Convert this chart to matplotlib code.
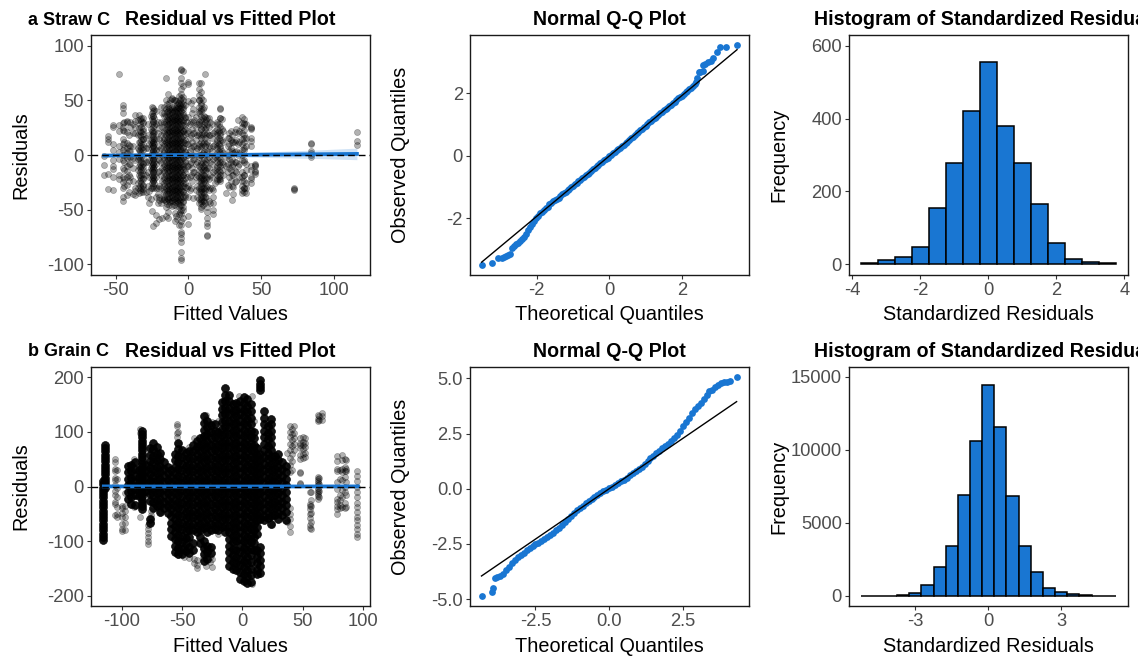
import numpy as np
import matplotlib
matplotlib.use("Agg")
import matplotlib.pyplot as plt
from matplotlib.transforms import Bbox

plt.rcParams['font.family'] = ['Liberation Sans', 'DejaVu Sans']
plt.rcParams['axes.unicode_minus'] = False

BLUE = '#1976D2'
GREY = '#4D4D4D'

# ---------- a: Straw C residuals, column by column (fitted value, residuals)
a_fitted = [-58, -55, -52, -48, -45, -42, -40, -37, -34, -33, -31, -29, -27, -25, -24, -22, -20, -18,
            -17, -15.5, -14, -12.5, -11, -9.5, -8, -6.5, -5, -3.5, -2, 0, 1.5, 3, 5, 7, 8.5, 10, 11.5, 13,
            15, 17, 20, 21.5, 23, 26, 28, 30, 32, 34, 37, 38.5, 43, 46, 73, 84.5, 116]
a_resid = [
    [-18, -9, -1],
    [-31, -17, 12, 15, 17],
    [-32, -20, -13, -10, -5, 5, 10, 26, 27],
    [74, 27, 22, 8, 3, -4, -18, -22],
    [46, 43, 38, 29, 26, 23, 15, 10, 5, 0, -5, -12, -20, -25, -30, -38, -42],
    [31, 30, 21, 11, 6, 2, -3, -10, -15, -20, -27, -37],
    [30, 26, 8, 4, -2, -8, -20],
    [37, 31, 26, 20, -5, -30, -33, -37],
    [37, 25, 12, 5, -2, -10, -18, -35],
    [33, 28, 22, 18, 12, 8, 4, 0, -4, -8, -12, -16, -20, -24, -28, -32],
    [34, 30, 22, 15, 7, -8, -14, -22, -28, -34],
    [16, 6, -6, -18, -34],
    [10, -5, -20, -33, -44],
    [44, 38, 33, 28, 22, 18, 14, 10, 6, 2, -2, -6, -10, -14, -18, -22, -26, -30, -51],
    [43, 36, 30, 22, 17, 12, 8, 4, 0, -4, -8, -12, -16, -20, -24, -65],
    [40, 28, 15, 5, -8, -20, -30, -38, -55, -62],
    [25, 15, 5, -5, -15, -28, -38, -41, -59],
    [38, 26, 12, 0, -12, -24, -40, -58],
    [44, 38, 30, 22, 16, 10, 4, -2, -8, -14, -20, -26, -32, -38, -41],
    [70, 50, 42, 36, 30, 24, 18, 12, 6, 0, -6, -12, -18, -24, -30, -36, -42, -48, -56],
    [56, 44, 40, 36, 32, 28, 24, 20, 16, 12, 8, 4, 0, -4, -8, -12, -16, -20, -24, -28, -32, -36, -40, -52, -58],
    [50, 41, 37, 33, 29, 25, 21, 17, 13, 9, 5, 1, -3, -7, -11, -15, -19, -23, -27, -31, -35, -39, -43],
    [52, 42, 38, 34, 30, 26, 22, 18, 14, 10, 6, 2, -2, -6, -10, -14, -18, -22, -26, -30, -34, -38, -42],
    [50, 41, 37, 33, 29, 25, 21, 17, 13, 9, 5, 1, -3, -7, -11, -15, -19, -23, -27, -31, -35, -39, -43, -53, -60],
    [46, 42, 38, 34, 30, 26, 22, 18, 14, 10, 6, 2, -2, -6, -10, -14, -18, -22, -26, -30, -34, -38, -42, -59],
    [54, 48, 43, 37, 31, 25, 19, 13, 7, 1, -5, -11, -17, -23, -29, -35, -41, -48, -54, -64],
    [79, 78, 70, 66, 60, 56, 52, 48, 44, 40, 36, 32, 28, 24, 20, 16, 12, 8, 4, 0, -4, -8, -12, -16, -20, -24, -28, -32, -36, -40, -46, -50, -54, -60, -64, -70, -72, -76, -80, -89, -94, -96],
    [77, 63, 50, 44, 38, 30, 22, 14, 6, -2, -10, -18, -26, -34, -42, -50, -58],
    [46, 34, 24, 14, 4, -6, -16, -26, -38],
    [67, 65, 49, 35, 22, 10, 0, -10, -28, -38, -56, -63],
    [48, 30, 18, 6, -6, -18, -30],
    [50, 42, 30, 20, 8, -4, -16, -39],
    [35, 26, 14, 4, -8, -20, -32],
    [66, 60, 55, 50, 44, 38, 28, 18, 8, -2, -14, -24, -34, -44],
    [66, 58, 52, 46, 40, 32, 24, 16, 8, 0, -8, -16, -20, -24, -28, -32, -36, -40, -44, -49],
    [50, 42, 34, 26, 18, 10, 2, -6, -10, -14, -18, -22, -26, -30, -34, -38, -42, -46],
    [74, 35, 30, 24, 16, 8, 0, -8, -14, -20, -26, -32, -38, -44],
    [34, 28, 20, 12, 4, -4, -12, -20, -28, -48, -52, -58, -62, -65, -73, -74],
    [30, 18, 6, -6, -18, -30, -44],
    [20, 8, -4, -16, -32, -38, -44, -50, -54],
    [28, 20, 14, 8, 2, -4, -10, -16, -22],
    [43, 42, 34, 26, 20, 14, 8, 2, -4, -10, -16, -22, -24],
    [33, 24, 14, 4, -6, -14],
    [-2, -10, -35],
    [20, 16, 10, 4, -4, -12, -20, -29],
    [18, 12, 4, -4, -10, -18, -28, -41],
    [21, 12, 3, -6, -15, -25],
    [32, 20, 10, 0, -10],
    [35, 29, 26, 20, 15, 10, 5, 0, -5, -16, -20, -24, -28, -32, -35],
    [29, 16, 5, -5, -18, -30],
    [26, 25, 24, 16, 13, 8, -10, -14, -20, -22, -26],
    [-8, -9, -10, -15, -16, -17],
    [-30, -31, -32],
    [11, 10, 4, 2, 0, -2],
    [21, 13, 9],
]
# more straw C points, filling between the columns above
a_fitted2 = [-44, -41, -38, -35, -32.5, -31.5, -28, -26, -24.5, -23.5, -21, -19, -16.5, -15, -13, -11.5, -10, -8.5,
             -7, -5.5, -4, -2.5, -1, 1, 2.5, 4, 6, 7.5, 9, 10.5, 12, 14, 16, 18, 19.5, 21, 22, 24, 27, 29, 31, 33,
             35, 38, 39.5]
a_resid2 = [
    [30, 22, 12, 6, 0, -6, -14, -22, -28],
    [18, 9, 4, -2, -8, -18, -24, -34],
    [28, 20, 8, -3, -12, -24, -36],
    [32, 18, 6, -4, -14, -26, -30],
    [34, 31, 26, 21, 17, 14, 10, 6, 2, -2, -6, -10, -14, -18, -22, -26, -30, -34],
    [29, 24, 19, 15, 10, 5, -3, -7, -11, -17, -21, -27, -31],
    [28, 18, 6, -6, -16, -28, -38],
    [36, 24, 12, 0, -12, -30, -40],
    [40, 36, 31, 26, 20, 16, 12, 8, 4, 0, -4, -8, -12, -16, -20, -24, -28],
    [41, 34, 27, 21, 15, 10, 6, 2, -2, -6, -10, -14, -18, -22, -26, -30],
    [30, 20, 8, -4, -16, -30, -36, -44],
    [44, 30, 18, 6, -6, -18, -30, -44],
    [36, 28, 20, 14, 8, 2, -4, -10, -16, -22, -28, -34, -40],
    [47, 39, 33, 27, 21, 15, 9, 3, -3, -9, -15, -21, -27, -33, -39, -45],
    [48, 42, 38, 34, 30, 26, 22, 18, 14, 10, 6, 2, -2, -6, -10, -14, -18, -22, -26, -30, -34, -38, -42, -46],
    [51, 44, 39, 35, 31, 27, 23, 19, 15, 11, 7, 3, -1, -5, -9, -13, -17, -21, -25, -29, -33, -37, -41, -47],
    [50, 44, 40, 36, 32, 28, 24, 20, 16, 12, 8, 4, 0, -4, -8, -12, -16, -20, -24, -28, -32, -36, -40, -46],
    [49, 43, 39, 35, 31, 27, 23, 19, 15, 11, 7, 3, -1, -5, -9, -13, -17, -21, -25, -29, -33, -37, -41, -47, -56],
    [48, 44, 40, 36, 32, 28, 24, 20, 16, 12, 8, 4, 0, -4, -8, -12, -16, -20, -24, -28, -32, -36, -40, -44],
    [50, 46, 42, 38, 34, 30, 26, 22, 18, 14, 10, 6, 2, -2, -6, -10, -14, -18, -22, -26, -30, -34, -38, -42, -46, -52],
    [53, 47, 42, 37, 32, 27, 22, 17, 12, 7, 2, -3, -8, -13, -18, -23, -28, -33, -38, -43, -48],
    [35, 27, 19, 11, 3, -5, -13, -21, -29, -37],
    [30, 20, 10, 0, -10, -20, -30],
    [28, 16, 4, -8, -20, -32],
    [38, 24, 12, 0, -12, -24],
    [32, 20, 8, -4, -16],
    [28, 18, 6, -6, -18, -28, -38],
    [50, 40, 30, 20, 10, 0, -10, -20, -30, -40],
    [48, 42, 36, 30, 24, 18, 12, 6, 0, -6, -12, -18, -22, -26, -30, -34, -38, -42, -48],
    [44, 36, 28, 20, 12, 4, -4, -12, -18, -24, -30, -36, -42],
    [32, 26, 18, 10, 2, -6, -14, -22, -30, -38],
    [34, 26, 18, 8, -2, -12, -22, -32, -42],
    [28, 16, 4, -8, -20, -30],
    [22, 10, -2, -14, -26],
    [30, 24, 18, 12, 6, 0, -6, -12, -18, -24],
    [28, 22, 16, 10, 4, -2, -8, -14, -20, -22],
    [34, 18, 6, -6, -18],
    [22, 12, 2, -8, -18],
    [16, 8, 0, -8, -16, -27],
    [22, 14, 6, -6, -14, -24],
    [12, 2, -8, -18, -29, -36],
    [24, 14, 4, -6, -16, -24],
    [22, 12, 2, -8, -20],
    [33, 28, 23, 18, 12, 6, -6, -18, -24, -30, -34],
    [28, 16, 8, -8, -14, -26, -30, -35],
]
a_smooth_x = [-58, -30, 0, 30, 60, 90, 116]
a_smooth_y = [-0.5, -0.2, 0.0, 0.1, 0.4, 0.7, 1.0]
a_smooth_se = [1.8, 1.0, 0.7, 1.6, 2.8, 4.0, 5.3]

# ---------- b: Grain C residuals
b_dense_fitted = [-115.5, -113.7, -95, -92, -89, -86, -83.5, -80, -77, -74, -71, -68, -65, -62, -59, -56, -53, -50,
                  -47, -44, -41, -38, -35, -32, -29, -26, -23, -20, -17, -14, -11, -8, -5, -2, 1, 4, 7, 10, 12.5,
                  14.8, 18, 21, 24, 27, 30, 33, 36]
b_dense_resid = [
    [10, 4, -2, -8, -14, -20, -26, -32, -38, -44, -50, -56, -62, -68, -74, -80, -86, -92, -98],
    [76, 70, 64, 58, 52, 46, 40, 34, 28, 22, 16, 10, 4, -2],
    [38, 26, 14, 2, -10, -22],
    [40, 28, 16, 4, -8, -20, -32],
    [44, 32, 20, 8, -4, -16, -34],
    [30, 18, 6, -6, -18],
    [102, 96, 90, 84, 78, 72, 66, 60, 54, 48, 42, 36, 30, 24, 18, 12, 6, 0, -6, -12, -18, -24, -30, -36, -42],
    [40, 28, 16, 4, -8],
    [70, 58, 46, 34, 22, 10, -2, -14, -26, -60, -66],
    [80, 68, 56, 44, 32, 20, 8, -4, -16, -28, -40],
    [72, 60, 48, 36, 24, 12, 0, -12, -24, -36],
    [62, 50, 38, 26, 14, 2, -10, -22, -34, -46],
    [44, 32, 20, 8, -4, -16, -28, -40],
    [36, 24, 12, 0, -12, -24, -36, -48],
    [30, 18, 6, -6, -18, -30, -42, -54, -66, -78, -90],
    [60, 48, 36, 24, 12, 0, -12, -24, -36, -48, -60, -72, -84, -96, -108, -120],
    [80, 68, 56, 44, 32, 20, 8, -4, -16, -28, -40, -52, -64, -76, -88, -100, -112, -124],
    [66, 54, 42, 30, 18, 6, -6, -18, -30, -42, -54, -66, -78, -90, -102, -114, -124],
    [62, 50, 38, 26, 14, 2, -10, -22, -34, -46, -58, -70, -82, -94, -106, -118],
    [64, 52, 40, 28, 16, 4, -8, -20, -32, -44, -56, -68, -80, -92, -110, -122],
    [76, 64, 52, 40, 28, 16, 4, -8, -20, -32, -44, -56, -68, -80, -104, -116],
    [84, 72, 60, 48, 36, 24, 12, 0, -12, -24, -36, -48, -60, -72, -84],
    [88, 76, 64, 52, 40, 28, 16, 4, -8, -20, -32, -44, -56, -68, -80, -92, -104],
    [128, 116, 104, 92, 80, 68, 56, 44, 32, 20, 8, -4, -16, -28, -40, -52, -64, -76, -100, -112, -124, -136],
    [120, 108, 96, 84, 72, 60, 48, 36, 24, 12, 0, -12, -24, -36, -48, -60, -72, -84, -108, -120, -132],
    [112, 100, 88, 76, 64, 52, 40, 28, 16, 4, -8, -20, -32, -44, -56, -68, -80, -110, -122],
    [114, 102, 90, 78, 66, 54, 42, 30, 18, 6, -6, -18, -30, -42, -54, -66, -78],
    [100, 88, 76, 64, 52, 40, 28, 16, 4, -8, -20, -32, -44, -56, -68, -80],
    [154, 142, 130, 118, 106, 94, 82, 70, 58, 46, 34, 22, 10, -2, -14, -26, -38, -50, -62, -74],
    [180, 168, 156, 144, 132, 120, 108, 96, 84, 72, 60, 48, 36, 24, 12, 0, -12, -24, -36, -48, -60, -72, -84],
    [168, 156, 144, 132, 120, 108, 96, 84, 72, 60, 48, 36, 24, 12, 0, -12, -24, -36, -48, -60, -72, -84, -96, -108, -120, -132, -146],
    [150, 138, 126, 114, 102, 90, 78, 66, 54, 42, 30, 18, 6, -6, -18, -30, -42, -54, -66, -78, -90, -102, -114, -126, -138, -150],
    [152, 140, 128, 116, 104, 92, 80, 68, 56, 44, 32, 20, 8, -4, -16, -28, -40, -52, -64, -76, -88, -100, -116, -128, -140, -152],
    [156, 144, 132, 120, 108, 96, 84, 72, 60, 48, 36, 24, 12, 0, -12, -24, -36, -48, -60, -72, -84, -96, -108, -120, -132, -144, -156, -170],
    [164, 152, 140, 128, 116, 104, 92, 80, 68, 56, 44, 32, 20, 8, -4, -16, -28, -40, -52, -64, -76, -88, -100, -112, -124, -136, -148, -160, -172],
    [160, 148, 136, 124, 112, 100, 88, 76, 64, 52, 40, 28, 16, 4, -8, -20, -32, -44, -56, -68, -80, -92, -104, -116, -128, -140, -152, -164, -176],
    [150, 138, 126, 114, 102, 90, 78, 66, 54, 42, 30, 18, 6, -6, -18, -30, -42, -54, -66, -78, -90, -102, -114, -126, -138, -150, -162, -174],
    [100, 88, 76, 64, 52, 40, 28, 16, 4, -8, -20, -32, -44, -56, -68, -80, -92, -104, -116],
    [70, 58, 46, 34, 22, 10, -2, -14, -26, -38, -50, -62, -74, -86, -116, -128, -140, -152, -160],
    [194, 188, 182, 176, 60, 48, 36, 24, 12, 0, -12, -24, -36, -48, -60, -110, -122, -134, -146, -158],
    [138, 126, 114, 102, 90, 78, 66, 54, 42, 30, 18, 6, -6, -18, -30, -42, -54, -62],
    [110, 98, 86, 74, 62, 50, 38, 26, 14, 2, -10, -22, -34, -46, -58],
    [124, 114, 102, 90, 78, 66, 54, 42, 30, 18, 6, -6, -18, -30, -42, -54, -68],
    [56, 44, 32, 20, 8, -4, -16, -28, -40, -52],
    [60, 48, 36, 24, 12, 0, -12, -24, -36, -48, -60],
    [44, 32, 20, 8, -4, -16, -28, -40, -52],
    [38, 26, 14, 2, -10, -22, -34, -46, -62],
]
b_sparse_fitted = [-105.5, -104, -100, -97, -90, -85, -78, -76, -68, -54, -53, -48, -44, -40, -38, -33, -30, -27, -25,
                   -20, -3, 8, 10, 12, 25, 37, 40, 41.5, 43, 48, 50, 52, 56, 57, 63, 64, 66, 79, 81, 83, 85, 86, 95.5]
b_sparse_resid = [
    [50, 45, 32, 28, 16, 12, 3, -8, -16, -28, -32, -52],
    [30, 14, -3, -20, -38, -50, -56],
    [-35, -40, -48, -55, -68, -78, -82],
    [-12, -35, -45, -55, -66, -80],
    [50, 45, -37],
    [106, 98, -55],
    [-70, -78, -85, -92, -100, -105],
    [-45, -52, -58, -64],
    [-48, -44, 48, 55],
    [115, 110, 98, 90],
    [-126, -118, 100, 78],
    [-128, -110, -92],
    [-100, -130, 72],
    [-133, -140, 88, 66],
    [-149, -143, -135, 70],
    [92, 86, -115, -130],
    [-145, -125, 130, 123],
    [-138, -128, -112, 105],
    [-148, -132, 118],
    [120, 100, -86],
    [-158, -148, 165],
    [-178, 165],
    [-148, -134, 120],
    [-120, -132, 72],
    [-70, 65],
    [-65, 62],
    [110, 100, 90, 78, 66, 52, 40, 26, -40, -50, -60, -72, -84],
    [105, 96, 85, 74, 60, 46, 30],
    [110, 98, 88, 78, 66],
    [88, 80, 75, 70, 58, 50, 26, 24, 6, 4],
    [90, 82, 76, 68, 60, 52],
    [88, 80, 72, 62, 54],
    [-10, -32, -36, -42, -50, -58, -70, -75],
    [-10, -24, -35, -48, -64, -78],
    [124, 120, 130, 18, 14, 10, 6, 2, -2, -6, -10, -14, -18, -22],
    [128, 122, 16, 4, -8, -20],
    [134, 128, 122],
    [56, 46, 32, 28, 8, -4, -22, -28, -35, -42, -50],
    [30, 14, -16, -24, -33, -40],
    [58, 48, 32, 26, 12, -6, -20, -38],
    [50, 36, 29, 18, 0, -10, -30, -40],
    [48, 32, 28, 8, -15, -38],
    [28, 20, 10, 0, -10, -20, -30, -38, -46, -55, -62, -70, -78, -86, -93],
]
b_smooth_x = [-115, -60, 0, 50, 96]
b_smooth_y = [0.2, 0.0, 0.0, 0.1, 0.2]

# ---------- Q-Q data
a_qq_x = [-3.52, -3.23, -3.06, -2.97, -2.90, -2.84, -2.78, -2.73, -2.69, -2.64, -2.58, -2.52, -2.46, -2.40, -2.35, -2.30,
          -2.25, -2.20, -2.14, -2.08, -2.02, -1.96, -1.90, -1.85,
          -1.80, -1.75, -1.70, -1.65, -1.60, -1.55, -1.50, -1.45, -1.40, -1.35, -1.30, -1.25, -1.20, -1.15, -1.10, -1.05,
          -1.00, -0.95, -0.90, -0.85, -0.80, -0.75, -0.70, -0.65, -0.60, -0.55, -0.50, -0.45, -0.40, -0.35, -0.30, -0.25,
          -0.20, -0.15, -0.10, -0.05, 0.00, 0.05, 0.10, 0.15, 0.20, 0.25, 0.30, 0.35, 0.40, 0.45, 0.50, 0.55, 0.60, 0.65,
          0.70, 0.75, 0.80, 0.85, 0.90, 0.95, 1.00, 1.05, 1.10, 1.15, 1.20, 1.25, 1.30, 1.35, 1.40, 1.45, 1.50, 1.55, 1.60,
          1.65, 1.70, 1.75, 1.80, 1.85, 1.90, 1.95, 2.00, 2.05, 2.10, 2.15, 2.20, 2.25, 2.30, 2.35, 2.40,
          2.43, 2.46, 2.51, 2.57, 2.59, 2.64, 2.73, 2.80, 2.87, 2.96, 3.06, 3.22, 3.51]
a_qq_y = [-3.50, -3.41, -3.28, -3.25, -3.22, -3.20, -3.18, -3.14, -2.93, -2.88, -2.83, -2.77, -2.71, -2.65, -2.58, -2.50,
          -2.37, -2.28, -2.18, -2.08, -2.00, -1.92, -1.84, -1.78,
          -1.72, -1.67, -1.62, -1.55, -1.49, -1.45, -1.41, -1.38, -1.33, -1.28, -1.23, -1.19, -1.14, -1.09, -1.05, -1.00,
          -0.95, -0.91, -0.86, -0.81, -0.77, -0.72, -0.67, -0.62, -0.57, -0.53, -0.48, -0.43, -0.37, -0.33, -0.28, -0.24,
          -0.18, -0.14, -0.09, -0.05, 0.00, 0.04, 0.09, 0.14, 0.18, 0.23, 0.27, 0.31, 0.35, 0.40, 0.45, 0.51, 0.57, 0.62,
          0.67, 0.73, 0.78, 0.83, 0.87, 0.92, 0.97, 1.03, 1.09, 1.13, 1.18, 1.22, 1.26, 1.31, 1.36, 1.41, 1.46, 1.50, 1.55,
          1.60, 1.64, 1.69, 1.74, 1.79, 1.84, 1.89, 1.93, 1.98, 2.04, 2.08, 2.13, 2.18, 2.23, 2.30, 2.38,
          2.48, 2.67, 2.70, 2.73, 2.91, 2.95, 2.99, 3.05, 3.13, 3.31, 3.47, 3.50, 3.54]
a_line_x = [-3.52, 3.52]
a_line_y = [-3.40, 3.40]

b_qq_x = [-4.33, -3.99, -3.93, -3.88, -3.8, -3.7, -3.6, -3.5, -3.4, -3.3, -3.2, -3.1, -3.0, -2.9, -2.8, -2.7, -2.6, -2.5,
          -2.4, -2.3, -2.2, -2.1, -2.0, -1.9, -1.8, -1.7, -1.6, -1.5, -1.4, -1.3, -1.2, -1.1, -1.0, -0.9, -0.8, -0.7, -0.6,
          -0.5, -0.4, -0.3, -0.2, -0.1, 0.0, 0.1, 0.2, 0.3, 0.4, 0.5, 0.6, 0.7, 0.8, 0.9, 1.0, 1.1, 1.2, 1.3, 1.4, 1.5, 1.6,
          1.7, 1.8, 1.9, 2.0, 2.1, 2.2, 2.3, 2.4, 2.5, 2.6, 2.7, 2.8, 2.9, 3.0, 3.1, 3.2, 3.3, 3.4, 3.5, 3.6, 3.7, 3.8, 3.9,
          4.0, 4.09, 4.32]
b_qq_y = [-4.85, -4.68, -4.48, -4.02, -3.99, -3.96, -3.87, -3.70, -3.53, -3.38, -3.24, -3.11, -3.00, -2.90, -2.78, -2.69, -2.60, -2.50,
          -2.44, -2.37, -2.28, -2.20, -2.10, -1.99, -1.88, -1.76, -1.63, -1.50, -1.37, -1.24, -1.10, -0.98, -0.87, -0.76, -0.66, -0.56, -0.46,
          -0.36, -0.27, -0.19, -0.11, -0.04, 0.03, 0.10, 0.18, 0.26, 0.34, 0.42, 0.51, 0.61, 0.71, 0.80, 0.89, 1.01, 1.14, 1.26, 1.38, 1.49, 1.61,
          1.72, 1.83, 1.94, 2.05, 2.17, 2.29, 2.46, 2.63, 2.84, 3.02, 3.22, 3.44, 3.62, 3.77, 3.90, 4.06, 4.24, 4.42, 4.48, 4.60, 4.72, 4.79, 4.82,
          4.85, 4.87, 5.05]
b_line_x = [-4.33, 4.32]
b_line_y = [-3.95, 3.95]

# ---------- histograms
a_bin_centers = [-3.5, -3, -2.5, -2, -1.5, -1, -0.5, 0, 0.5, 1, 1.5, 2, 2.5, 3, 3.5]
a_counts = [3, 13, 20, 48, 154, 278, 422, 556, 380, 278, 165, 60, 15, 8, 3]
b_bin_centers = [-5, -4.5, -4, -3.5, -3, -2.5, -2, -1.5, -1, -0.5, 0, 0.5, 1, 1.5, 2, 2.5, 3, 3.5, 4, 4.5, 5]
b_counts = [1, 2, 10, 40, 170, 750, 1950, 3420, 6900, 10600, 14450, 11550, 6850, 3430, 1600, 520, 230, 110, 40, 15, 3]

W, H = 1148, 656
fig = plt.figure(figsize=(W / 100, H / 100), dpi=100)
clip = Bbox([[0, 0], [1138, H]])


def panel(l, r, t, b, xlim, ylim, xticks, yticks, xlabels, title, xlabel, ylabel, ylab_x, xlab_y):
    ax = fig.add_axes([l / W, 1 - b / H, (r - l) / W, (b - t) / H])
    ax.set_xlim(*xlim)
    ax.set_ylim(*ylim)
    ax.set_xticks(xticks)
    ax.set_xticklabels(xlabels)
    ax.set_yticks(yticks)
    ax.tick_params(length=3, width=0.8, color='#333333', labelcolor=GREY, labelsize=13.2, pad=2.2)
    for s in ax.spines.values():
        s.set_linewidth(1.0)
        s.set_color('#1a1a1a')
    tt = ax.set_title(title, fontsize=14.1, fontweight='bold', color='black', pad=7.2)
    tt.set_clip_on(True)
    tt.set_clip_box(clip)
    tx = ax.set_xlabel(xlabel, fontsize=14.3, color='black')
    tx.set_verticalalignment('center')
    ax.xaxis.set_label_coords(0.5, (b - xlab_y) / (b - t))
    ty = ax.set_ylabel(ylabel, fontsize=14.3, color='black')
    ty.set_verticalalignment('center')
    ax.yaxis.set_label_coords((ylab_x - l) / (r - l), 0.5)
    return ax


def columns(ax, xs, ys, alpha, size):
    x = np.repeat(xs, [len(v) for v in ys])
    y = np.concatenate(ys)
    ax.scatter(x, y, s=size, facecolors=(0, 0, 0, alpha), edgecolors=(0, 0, 0, alpha), linewidths=0.5, zorder=2)


rows = [(35, 275, 314), (367, 606, 646)]
cols = [(91, 370, 21), (470, 749, 400), (849, 1128, 779)]

# a1
t, b, xy = rows[0]
ax = panel(cols[0][0], cols[0][1], t, b, (-67, 125), (-109.8, 109.8), [-50, 0, 50, 100], [-100, -50, 0, 50, 100],
           ['-50', '0', '50', '100'], 'Residual vs Fitted Plot', 'Fitted Values', 'Residuals', cols[0][2], xy)
columns(ax, a_fitted, a_resid, 0.3, 19)
columns(ax, a_fitted2, a_resid2, 0.3, 19)
lo = np.array(a_smooth_y) - np.array(a_smooth_se)
hi = np.array(a_smooth_y) + np.array(a_smooth_se)
ax.fill_between(a_smooth_x, lo, hi, color=BLUE, alpha=0.2, lw=0, zorder=3)
ax.plot(a_smooth_x, a_smooth_y, color=BLUE, lw=2.7, zorder=4)
ax.axhline(0, color='black', lw=1.0, ls=(0, (4.8, 2.9)), zorder=5)

# a2
ax = panel(cols[1][0], cols[1][1], t, b, (-3.84, 3.85), (-3.81, 3.87), [-2, 0, 2], [-2, 0, 2],
           ['-2', '0', '2'], 'Normal Q-Q Plot', 'Theoretical Quantiles', 'Observed Quantiles', cols[1][2], xy)
ax.scatter(a_qq_x, a_qq_y, s=24, color=BLUE, linewidths=0, zorder=2)
ax.plot(a_line_x, a_line_y, color='black', lw=1.0, zorder=3)

# a3
ax = panel(cols[2][0], cols[2][1], t, b, (-4.10, 4.11), (-29, 629), [-4, -2, 0, 2, 4], [0, 200, 400, 600],
           ['-4', '-2', '0', '2', '4'], 'Histogram of Standardized Residuals', 'Standardized Residuals', 'Frequency',
           cols[2][2], xy)
ax.bar(a_bin_centers, a_counts, width=0.5, color=BLUE, edgecolor='black', linewidth=1.1, zorder=2)

# b1
t, b, xy = rows[1]
ax = panel(cols[0][0], cols[0][1], t, b, (-125.6, 106), (-218.5, 218.5), [-100, -50, 0, 50, 100], [-200, -100, 0, 100, 200],
           ['-100', '-50', '0', '50', '100'], 'Residual vs Fitted Plot', 'Fitted Values', 'Residuals', cols[0][2], xy)
columns(ax, b_sparse_fitted, b_sparse_resid, 0.3, 19)
columns(ax, b_dense_fitted, b_dense_resid, 0.92, 32)
ax.plot(b_smooth_x, b_smooth_y, color=BLUE, lw=2.7, zorder=4)
ax.axhline(0, color='black', lw=1.0, ls=(0, (4.8, 2.9)), zorder=5)

# b2
ax = panel(cols[1][0], cols[1][1], t, b, (-4.72, 4.74), (-5.31, 5.52), [-2.5, 0, 2.5], [-5, -2.5, 0, 2.5, 5],
           ['-2.5', '0.0', '2.5'], 'Normal Q-Q Plot', 'Theoretical Quantiles', 'Observed Quantiles', cols[1][2], xy)
ax.set_yticklabels(['-5.0', '-2.5', '0.0', '2.5', '5.0'])
ax.scatter(b_qq_x, b_qq_y, s=24, color=BLUE, linewidths=0, zorder=2)
ax.plot(b_line_x, b_line_y, color='black', lw=1.0, zorder=3)

# b3
ax = panel(cols[2][0], cols[2][1], t, b, (-5.73, 5.75), (-705, 15685), [-3, 0, 3], [0, 5000, 10000, 15000],
           ['-3', '0', '3'], 'Histogram of Standardized Residuals', 'Standardized Residuals', 'Frequency', cols[2][2], xy)
ax.bar(b_bin_centers, b_counts, width=0.5, color=BLUE, edgecolor='black', linewidth=1.1, zorder=2)

fig.text(28 / W, 1 - 25 / H, 'a Straw C', fontsize=13, fontweight='bold', ha='left', va='baseline')
fig.text(28 / W, 1 - 356 / H, 'b Grain C', fontsize=13, fontweight='bold', ha='left', va='baseline')

fig.savefig('out.png', dpi=100)
